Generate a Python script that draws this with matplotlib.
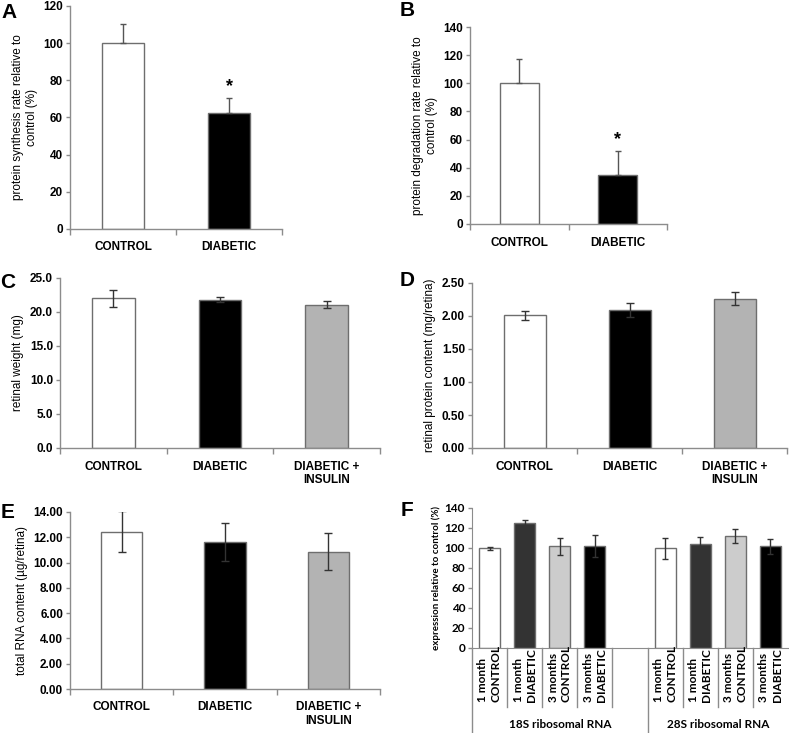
import matplotlib
matplotlib.use("Agg")
import matplotlib.pyplot as plt
import matplotlib.transforms as mtransforms

plt.rcParams['font.family'] = ['Liberation Sans', 'DejaVu Sans']

# data
ab_groups = ['CONTROL', 'DIABETIC']
synth_vals = [100, 62.5]
synth_err = [10.5, 8]
degr_vals = [100, 34.5]
degr_err = [17, 17.5]

cde_groups = ['CONTROL', 'DIABETIC', 'DIABETIC +\nINSULIN']
weight_vals = [22.0, 21.8, 21.1]
weight_err = [1.2, 0.4, 0.45]
protein_vals = [2.01, 2.09, 2.26]
protein_err = [0.07, 0.11, 0.10]
rna_vals = [12.45, 11.6, 10.85]
rna_err = [1.6, 1.5, 1.45]

f_labels = ['1 month\nCONTROL', '1 month\nDIABETIC', '3 months\nCONTROL', '3 months\nDIABETIC']
f_groups = ['18S ribosomal RNA', '28S ribosomal RNA']
rrna18_vals = [100, 125, 102, 102]
rrna18_err = [1.5, 3.5, 8.5, 11]
rrna28_vals = [100, 104.5, 112, 102]
rrna28_err = [10.5, 6.5, 7, 7.5]

SPINE = '#8c8c8c'
EDGE = '#6e6e6e'
W, H = 789, 733
FONT_F = ['Lato', 'DejaVu Sans']

fig = plt.figure(figsize=(W / 100, H / 100), dpi=100)


def add_ax(left, top, right, bottom):
    return fig.add_axes([left / W, 1 - bottom / H, (right - left) / W, (bottom - top) / H])


def style(ax, ymax, step, fmt, ylabel, n):
    ax.set_ylim(0, ymax)
    ax.set_xlim(-0.5, n - 0.5)
    ticks = [i * step for i in range(int(round(ymax / step)) + 1)]
    ax.set_yticks(ticks)
    ax.set_yticklabels([fmt.format(t) for t in ticks], fontsize=8.5, fontweight='bold')
    for s in ['top', 'right']:
        ax.spines[s].set_visible(False)
    for s in ['left', 'bottom']:
        ax.spines[s].set_color(SPINE)
        ax.spines[s].set_linewidth(1)
    ax.tick_params(axis='y', length=3, width=1, color=SPINE, pad=2)
    ax.set_xticks(range(n))
    ax.tick_params(axis='x', which='major', length=0, pad=9)
    ax.set_xticks([i - 0.5 for i in range(n + 1)], minor=True)
    ax.tick_params(axis='x', which='minor', length=4, width=1, color=SPINE)
    ax.set_ylabel(ylabel, fontsize=8.5, labelpad=4)


colors3 = ['white', 'black', '#b3b3b3']

# A
axA = add_ax(70, 6, 282, 229)
axA.bar(range(2), synth_vals, 0.4, color=colors3[:2], edgecolor=EDGE, linewidth=1, zorder=2)
axA.errorbar(range(2), synth_vals, yerr=[[0, 0], synth_err], fmt='none', ecolor='#555555',
             elinewidth=1, capsize=2.5, zorder=3)
style(axA, 120, 20, '{:.0f}', 'protein synthesis rate relative to\ncontrol (%)', 2)
axA.set_xticklabels(ab_groups, fontsize=8.5, fontweight='bold')
axA.annotate('*', (1, synth_vals[1] + synth_err[1]), xytext=(0, 2), textcoords='offset points',
             ha='center', va='bottom', fontsize=13, fontweight='bold')

# B
axB = add_ax(470, 27, 667, 224)
axB.bar(range(2), degr_vals, 0.4, color=colors3[:2], edgecolor=EDGE, linewidth=1, zorder=2)
axB.errorbar(range(2), degr_vals, yerr=[[0, 0], degr_err], fmt='none', ecolor='#555555',
             elinewidth=1, capsize=2.5, zorder=3)
style(axB, 140, 20, '{:.0f}', 'protein degradation rate relative to\ncontrol (%)', 2)
axB.set_xticklabels(ab_groups, fontsize=8.5, fontweight='bold')
axB.annotate('*', (1, degr_vals[1] + degr_err[1]), xytext=(0, 2), textcoords='offset points',
             ha='center', va='bottom', fontsize=13, fontweight='bold')


def three_bar(ax, vals, err):
    ax.bar(range(3), vals, 0.4, color=colors3, edgecolor=EDGE, linewidth=1, zorder=2)
    ax.errorbar(range(3), vals, yerr=err, fmt='none', ecolor='#333333',
                elinewidth=1, capsize=3, zorder=3)


# C
axC = add_ax(60, 278, 380, 448)
three_bar(axC, weight_vals, weight_err)
style(axC, 25, 5, '{:.1f}', 'retinal weight (mg)', 3)
axC.set_xticklabels(cde_groups, fontsize=8.5, fontweight='bold')

# D
axD = add_ax(472, 283, 787, 448)
three_bar(axD, protein_vals, protein_err)
style(axD, 2.5, 0.5, '{:.2f}', 'retinal protein content (mg/retina)', 3)
axD.set_xticklabels(cde_groups, fontsize=8.5, fontweight='bold')

# E
axE = add_ax(70, 512, 380, 689)
three_bar(axE, rna_vals, rna_err)
style(axE, 14, 2, '{:.2f}', 'total RNA content (\u00b5g/retina)', 3)
axE.set_xticklabels(cde_groups, fontsize=8.5, fontweight='bold')

# F
axF = add_ax(472, 508, 788, 648)
f_colors = ['white', '#333333', '#cccccc', 'black']
x18 = [0, 1, 2, 3]
x28 = [5, 6, 7, 8]
axF.bar(x18, rrna18_vals, 0.6, color=f_colors, edgecolor=EDGE, linewidth=1, zorder=2)
axF.bar(x28, rrna28_vals, 0.6, color=f_colors, edgecolor=EDGE, linewidth=1, zorder=2)
axF.errorbar(x18, rrna18_vals, yerr=rrna18_err, fmt='none', ecolor='#333333',
             elinewidth=1, capsize=2.5, zorder=3)
axF.errorbar(x28, rrna28_vals, yerr=rrna28_err, fmt='none', ecolor='#333333',
             elinewidth=1, capsize=2.5, zorder=3)
axF.set_xlim(-0.5, 8.5)
axF.set_ylim(0, 140)
axF.set_yticks(range(0, 141, 20))
axF.set_yticklabels([str(v) for v in range(0, 141, 20)], fontsize=8.5, fontweight='bold',
                    family=FONT_F)
for s in ['top', 'right']:
    axF.spines[s].set_visible(False)
for s in ['left', 'bottom']:
    axF.spines[s].set_color(SPINE)
axF.tick_params(axis='y', length=3, width=1, color=SPINE, pad=2)
axF.set_xticks([])
axF.set_ylabel('expression relative to control (%)', fontsize=7, fontweight='bold',
               family=FONT_F, labelpad=3)

tr = mtransforms.blended_transform_factory(axF.transData, axF.transAxes)
for xb in [0.5, 1.5, 2.5, 3.5, 5.5, 6.5, 7.5]:
    axF.plot([xb, xb], [0, -0.42], transform=tr, color=SPINE, lw=1, clip_on=False)
for xb in [-0.5, 4.5]:
    axF.plot([xb, xb], [0, -0.6], transform=tr, color=SPINE, lw=1, clip_on=False)
for xs in (x18, x28):
    for x, lab in zip(xs, f_labels):
        axF.text(x, -0.385, lab, transform=tr, rotation=90, ha='center', va='bottom',
                 multialignment='left', fontsize=8.5, fontweight='bold',
                 family=FONT_F, linespacing=1.25)
for xc, g in zip((2.0, 6.5), f_groups):
    axF.text(xc, -0.55, g, transform=tr, ha='center', va='center', fontsize=8.5,
             fontweight='bold', family=FONT_F)

# panel letters
for lab, (px, py) in zip('ABCDEF', [(9, 12), (407, 10), (8, 283), (407, 281), (8, 512), (407, 510)]):
    fig.text(px / W, 1 - py / H, lab, fontsize=15, fontweight='bold', ha='center', va='center')

fig.savefig('out.png', dpi=100)
